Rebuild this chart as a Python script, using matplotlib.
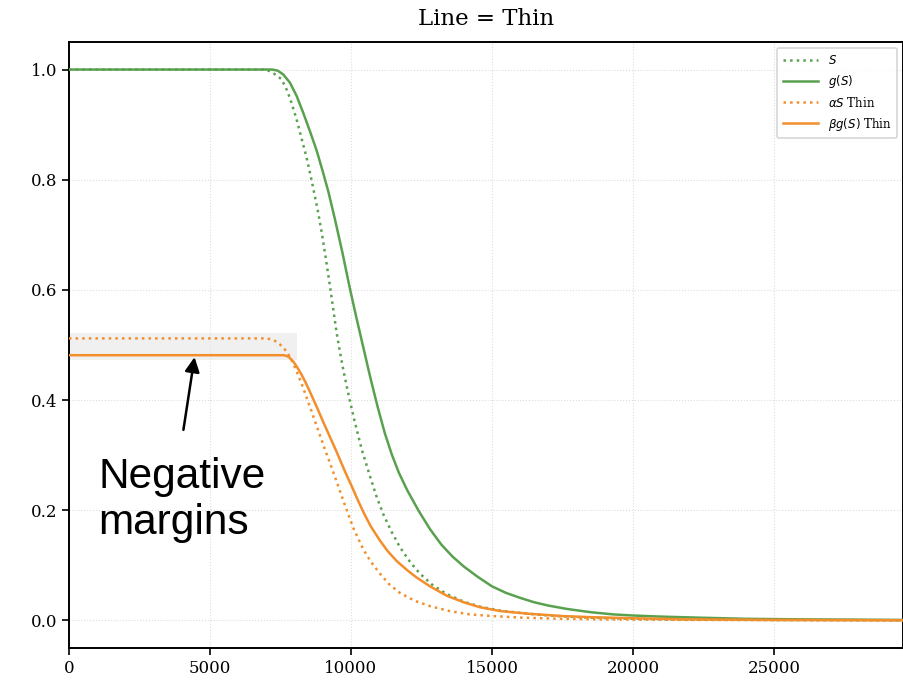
import matplotlib
matplotlib.use("Agg")
import matplotlib.pyplot as plt
from matplotlib.patches import Rectangle

# ---- data ----
x_S = [0, 6900, 7128, 7350, 7541, 7700, 7837, 7955, 8074, 8167, 8251, 8369, 8480, 8600, 8700, 8820,
       8960, 9100, 9255, 9400, 9492, 9600, 9728, 9850, 9964, 10142, 10379, 10674, 10900, 11145, 11450,
       11737, 12100, 12446, 12900, 13393, 14000, 14574, 15283, 16111, 17000, 17660, 18500, 20000,
       22000, 25000, 29580]
S = [1.0, 1.0, 0.997, 0.990, 0.982, 0.966, 0.948, 0.929, 0.909, 0.891, 0.874, 0.852, 0.828, 0.800,
     0.775, 0.745, 0.705, 0.660, 0.607, 0.555, 0.522, 0.490, 0.455, 0.425, 0.398, 0.359, 0.311, 0.262,
     0.226, 0.193, 0.160, 0.133, 0.106, 0.085, 0.064, 0.048, 0.034, 0.025, 0.018, 0.013, 0.009, 0.007,
     0.005, 0.003, 0.0015, 0.0007, 0.0002]

x_g = [0, 7200, 7400, 7600, 7837, 8074, 8310, 8546, 8783, 9000, 9200, 9433, 9700, 9964, 10200, 10450,
       10700, 10950, 11200, 11450, 11700, 12000, 12400, 12800, 13200, 13600, 14000, 14500, 15000, 15500,
       16000, 16500, 17000, 17650, 18500, 19300, 20000, 21000, 22400, 24000, 26000, 29580]
g = [1.0, 1.0, 0.998, 0.991, 0.976, 0.952, 0.921, 0.888, 0.853, 0.815, 0.778, 0.728, 0.667, 0.602,
     0.548, 0.493, 0.438, 0.387, 0.340, 0.301, 0.268, 0.236, 0.199, 0.166, 0.138, 0.116, 0.098, 0.079,
     0.062, 0.050, 0.041, 0.033, 0.027, 0.021, 0.015, 0.011, 0.009, 0.007, 0.005, 0.003, 0.002, 0.001]

x_aS = [0, 7000, 7200, 7364, 7550, 7718, 7850, 7955, 8075, 8191, 8300, 8450, 8600, 8783, 8950, 9078,
        9255, 9492, 9787, 10083, 10437, 10700, 11028, 11350, 11737, 12250, 12801, 13500, 14219, 15000,
        16111, 17500, 19000, 22000, 29580]
aS = [0.512, 0.512, 0.510, 0.506, 0.498, 0.488, 0.477, 0.466, 0.452, 0.437, 0.423, 0.401, 0.380, 0.353,
      0.329, 0.310, 0.286, 0.252, 0.209, 0.168, 0.129, 0.107, 0.085, 0.066, 0.050, 0.036, 0.026, 0.017,
      0.011, 0.008, 0.005, 0.003, 0.002, 0.001, 0.0002]

x_bg = [0, 7600, 7700, 7800, 7955, 8100, 8250, 8400, 8546, 8783, 9019, 9255, 9492, 9800, 10024, 10230,
        10437, 10700, 11028, 11300, 11619, 12000, 12328, 12800, 13393, 14000, 14574, 15300, 16348, 17500,
        18500, 20000, 22000, 25000, 29580]
bg = [0.4815, 0.4815, 0.4805, 0.478, 0.470, 0.459, 0.446, 0.431, 0.415, 0.388, 0.360, 0.333, 0.306,
      0.269, 0.244, 0.220, 0.197, 0.171, 0.145, 0.126, 0.108, 0.091, 0.078, 0.062, 0.045, 0.033, 0.024,
      0.017, 0.012, 0.008, 0.006, 0.004, 0.002, 0.001, 0.0003]

x_ticks = [0, 5000, 10000, 15000, 20000, 25000]
y_ticks = [0.0, 0.2, 0.4, 0.6, 0.8, 1.0]

GREEN = '#59a14f'
ORANGE = '#f28e2b'

plt.rcParams['font.family'] = ['DejaVu Serif']
fig = plt.figure(figsize=(9.04, 6.85), dpi=100)
ax = fig.add_axes([0.0763, 0.054, 0.9227, 0.8847])

# highlighted region
ax.add_patch(Rectangle((0, 0.472), 8100, 0.05, facecolor='#e6e6e6', alpha=0.6,
                       edgecolor='none', zorder=1))

ax.plot(x_S, S, ':', color=GREEN, lw=1.8, label='$S$', zorder=3)
ax.plot(x_g, g, '-', color=GREEN, lw=1.8, label='$g(S)$', zorder=3)
ax.plot(x_aS, aS, ':', color=ORANGE, lw=1.8, label=r'$\alpha S$ Thin', zorder=3)
ax.plot(x_bg, bg, '-', color=ORANGE, lw=1.8, label=r'$\beta g(S)$ Thin', zorder=3)

ax.set_xlim(0, 29580)
ax.set_ylim(-0.05, 1.05)
ax.set_xticks(x_ticks)
ax.set_yticks(y_ticks)
ax.set_yticklabels([f'{v:.1f}' for v in y_ticks])
ax.tick_params(labelsize=12, length=5, width=1.2, direction='out')
ax.grid(True, color='#dddddd', lw=0.8, ls=':')
ax.set_axisbelow(True)
for sp in ax.spines.values():
    sp.set_linewidth(1.4)
    sp.set_color('black')

ax.set_title('Line = Thin', fontsize=16.5, pad=12)

leg = ax.legend(loc='upper right', fontsize=8.5, frameon=True, fancybox=True,
                edgecolor='#cccccc', borderpad=0.5, handlelength=3.0)
leg.get_frame().set_linewidth(1.2)

ax.annotate('', xy=(4468, 0.483), xytext=(4043, 0.341),
            arrowprops=dict(arrowstyle='-|>', color='black', lw=1.8, mutation_scale=22))
ax.text(1050, 0.14, 'Negative\nmargins', fontsize=30.5, family='Liberation Sans',
        ha='left', va='bottom', linespacing=1.2)

fig.savefig('out.png', dpi=100)
